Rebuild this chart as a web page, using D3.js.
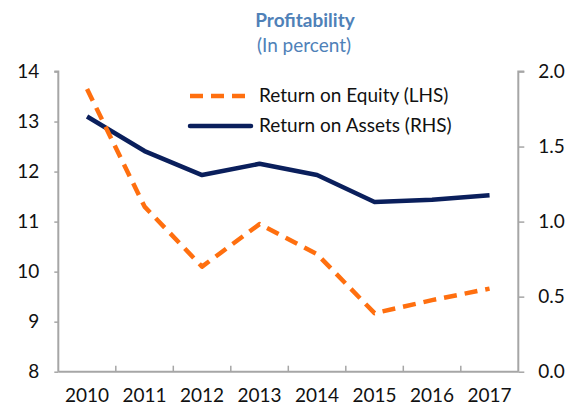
<!DOCTYPE html>
<html><head><meta charset="utf-8">
<script src="https://cdn.jsdelivr.net/npm/d3@7"></script>
<style>body{margin:0;background:#fff}svg{display:block}</style>
</head><body>
<script>
const years = ["2010","2011","2012","2013","2014","2015","2016","2017"];
const roe = [13.65, 11.3, 10.1, 10.95, 10.35, 9.17, 9.43, 9.66];
const roa = [1.70, 1.47, 1.31, 1.385, 1.31, 1.13, 1.145, 1.175];
const leftTicks = [8, 9, 10, 11, 12, 13, 14];
const rightTicks = [0.0, 0.5, 1.0, 1.5, 2.0];
const seriesNames = ["Return on Equity (LHS)", "Return on Assets (RHS)"];

const W = 565, H = 409;
const m = {left: 58.3, right: 565 - 518.3, top: 71.5, bottom: 409 - 371.7};
const font = "Lato, 'Open Sans', sans-serif";
const fs = 19;
const axisColor = "#a6a6a6";
const orange = "#ff6f0f", navy = "#0a1f5c";

const svg = d3.select("body").append("svg").attr("width", W).attr("height", H);

const x = d3.scaleBand().domain(years).range([m.left, W - m.right]);
const yL = d3.scaleLinear().domain([8, 14]).range([H - m.bottom, m.top]);
const yR = d3.scaleLinear().domain([0, 2]).range([H - m.bottom, m.top]);

// Title
svg.append("text").attr("x", 305).attr("y", 26.5).attr("text-anchor", "middle")
  .attr("font-family", font).attr("font-weight", "bold").attr("font-size", fs)
  .attr("fill", "#4f81b8").text("Profitability");
svg.append("text").attr("x", 304).attr("y", 51.5).attr("text-anchor", "middle")
  .attr("font-family", font).attr("font-size", fs)
  .attr("fill", "#4f81b8").text("(In percent)");

// Axes
const gL = svg.append("g").attr("transform", `translate(${m.left},0)`)
  .call(d3.axisLeft(yL).tickValues(leftTicks).tickSize(4).tickPadding(15).tickFormat(d3.format("d")));
const gR = svg.append("g").attr("transform", `translate(${W - m.right},0)`)
  .call(d3.axisRight(yR).tickValues(rightTicks).tickSize(6).tickPadding(14).tickFormat(d3.format(".1f")));
const gB = svg.append("g").attr("transform", `translate(0,${H - m.bottom})`)
  .call(d3.axisBottom(x).tickSize(0).tickPadding(17));
// bottom inward ticks at band boundaries
svg.append("g").selectAll("line").data(years.slice(1)).join("line")
  .attr("x1", d => x(d)).attr("x2", d => x(d))
  .attr("y1", H - m.bottom).attr("y2", H - m.bottom - 6)
  .attr("stroke", axisColor).attr("stroke-width", 1.5);

[gL, gR, gB].forEach(g => {
  g.select(".domain").attr("stroke", axisColor).attr("stroke-width", 2);
  g.selectAll(".tick line").attr("stroke", axisColor).attr("stroke-width", 1.5);
  g.selectAll(".tick text").attr("font-family", font).attr("font-size", fs).attr("fill", "#111");
});
gL.select(".domain").attr("d", `M-4,${m.top}H0V${H - m.bottom}`);
gR.select(".domain").attr("d", `M6,${m.top}H0V${H - m.bottom}`);
gB.select(".domain").attr("d", `M${m.left},0H${W - m.right}`);

// Lines
const cx = d => x(d) + x.bandwidth() / 2;
const lineL = d3.line().x((d, i) => cx(years[i])).y(d => yL(d));
const lineR = d3.line().x((d, i) => cx(years[i])).y(d => yR(d));

svg.append("path").datum(roa).attr("d", lineR).attr("fill", "none")
  .attr("stroke", navy).attr("stroke-width", 4.5).attr("stroke-linejoin", "round");
svg.append("path").datum(roe).attr("d", lineL).attr("fill", "none")
  .attr("stroke", orange).attr("stroke-width", 4.5).attr("stroke-dasharray", "13,8")
  .attr("stroke-linejoin", "round");

// Legend
const lg = svg.append("g");
lg.append("line").attr("x1", 190).attr("x2", 248).attr("y1", 96).attr("y2", 96)
  .attr("stroke", orange).attr("stroke-width", 4.5).attr("stroke-dasharray", "13,8");
lg.append("text").attr("x", 259).attr("y", 102).attr("font-family", font).attr("font-size", fs)
  .attr("fill", "#111").text(seriesNames[0]);
lg.append("line").attr("x1", 190).attr("x2", 251).attr("y1", 126).attr("y2", 126)
  .attr("stroke", navy).attr("stroke-width", 4.5).attr("stroke-linecap", "round");
lg.append("text").attr("x", 259).attr("y", 132).attr("font-family", font).attr("font-size", fs)
  .attr("fill", "#111").text(seriesNames[1]);
</script>
</body></html>
